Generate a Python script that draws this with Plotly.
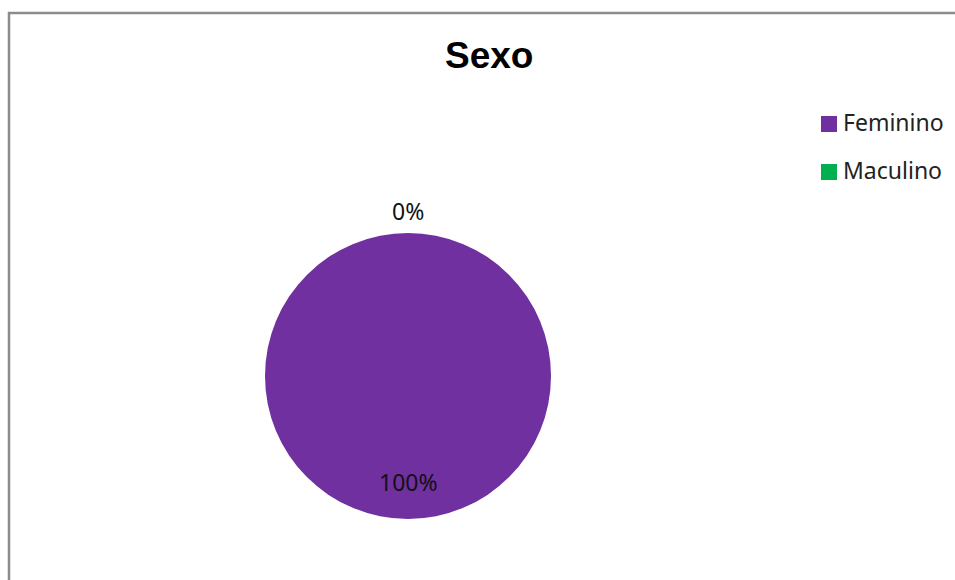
import plotly.graph_objects as go

# Data
categories = ["Feminino", "Maculino"]
values = [100, 0]
colors = ["#7030A0", "#00B050"]
title_text = "Sexo"

W, H = 955, 580
total = sum(values)
pcts = [f"{round(v / total * 100)}%" for v in values]

# pie geometry in pixels
cx, cy, r = 408, 376, 143

def px(x):
    return x / W

def py(y):
    return 1 - y / H

fig = go.Figure()
fig.add_trace(go.Pie(
    labels=categories,
    values=values,
    marker=dict(colors=colors, line=dict(width=0)),
    textinfo="none",
    sort=False,
    direction="clockwise",
    rotation=0,
    showlegend=False,
    hoverinfo="label+percent",
    domain=dict(x=[px(cx - r), px(cx + r)], y=[py(cy + r), py(cy - r)]),
))

annotations = []
# title
annotations.append(dict(text=f"<b>{title_text}</b>", x=px(489), y=py(56), xref="paper", yref="paper",
                        showarrow=False, font=dict(family="Liberation Sans, Arial", size=37, color="black"),
                        xanchor="center", yanchor="middle"))
# data labels: first slice (Feminino, 100%) inside near bottom; second slice (0%) outside top
label_pos = {0: (408, 482), 1: (408, 211)}
for i, t in enumerate(pcts):
    x, y = label_pos[i]
    annotations.append(dict(text=t, x=px(x), y=py(y), xref="paper", yref="paper", showarrow=False,
                            font=dict(family="Noto Sans", size=23, color="#111"),
                            xanchor="center", yanchor="middle"))

shapes = []
# outer chart border
shapes.append(dict(type="rect", xref="paper", yref="paper", x0=px(9), x1=1.05, y0=-0.05, y1=py(13),
                   line=dict(color="#8c8c8c", width=2.5), fillcolor="rgba(0,0,0,0)", layer="below"))
# manual legend
for i, (cat, col) in enumerate(zip(categories, colors)):
    yc = 124 + i * 48
    shapes.append(dict(type="rect", xref="paper", yref="paper", x0=px(821), x1=px(837),
                       y0=py(yc + 8), y1=py(yc - 8), fillcolor=col, line=dict(width=0)))
    annotations.append(dict(text=cat, x=px(841), y=py(yc - 2), xref="paper", yref="paper", showarrow=False,
                            font=dict(family="Noto Sans", size=23, color="#222"),
                            xanchor="left", yanchor="middle"))

fig.update_layout(
    width=W, height=H,
    margin=dict(l=0, r=0, t=0, b=0),
    paper_bgcolor="white",
    plot_bgcolor="white",
    annotations=annotations,
    shapes=shapes,
    showlegend=False,
)

fig.write_html("out.html")
